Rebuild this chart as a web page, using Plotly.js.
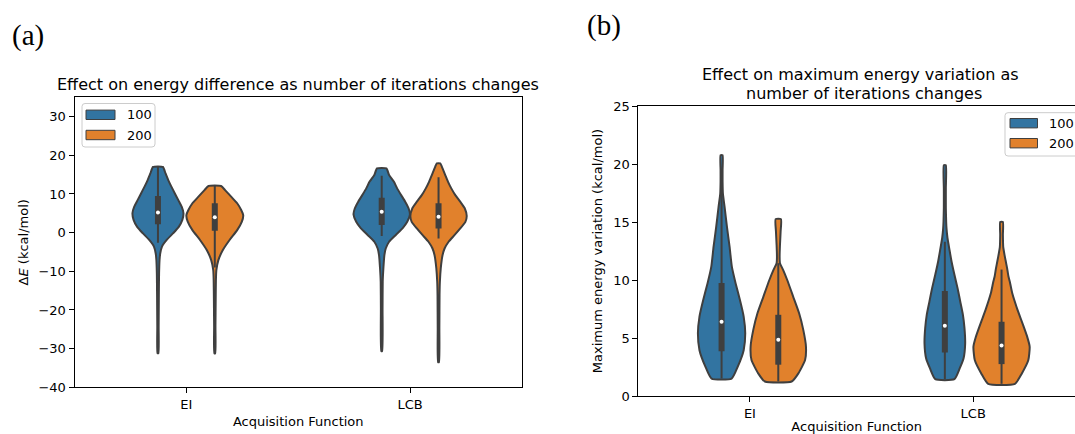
<!DOCTYPE html>
<html>
<head>
<meta charset="utf-8">
<script src="https://cdn.plot.ly/plotly-3.0.1.min.js"></script>
<style>
  html, body { margin: 0; padding: 0; background: #fff; }
  #chart { width: 1075px; height: 434px; }
</style>
</head>
<body>
<div id="chart"></div>
<script>
// ---------------------------------------------------------------
// Categories and hue levels
// ---------------------------------------------------------------
const categories = ['EI', 'LCB'];
const hueLevels = ['100', '200'];
const hueColors = ['#3274a1', '#e1812c'];

// Violin outlines: value levels (top to bottom) and half-width of the
// density at each level (in category units). Box stats are
// [lower whisker, Q1, median, Q3, upper whisker].

// (a) Energy difference, kcal/mol
const dE_EI_100_y = [17.0, 15.3, 13.6, 11.9, 10.2, 8.4, 6.7, 5.0, 3.3, 1.5, -0.2, -1.9, -3.6, -5.4, -7.1, -10.5, -15.7, -24.3, -31.2];
const dE_EI_100_w = [0.022, 0.034, 0.046, 0.060, 0.075, 0.091, 0.106, 0.114, 0.109, 0.093, 0.067, 0.039, 0.018, 0.010, 0.007, 0.005, 0.004, 0.003, 0.002];
const dE_EI_100_box = [-2.6, 2.2, 5.2, 9.5, 17.0];

const dE_EI_200_y = [12.05, 11.0, 9.3, 7.6, 5.85, 4.55, 2.85, 0.65, -1.9, -4.5, -7.1, -9.7, -12.3, -17.4, -24.3, -31.2];
const dE_EI_200_w = [0.028, 0.046, 0.073, 0.100, 0.118, 0.127, 0.121, 0.100, 0.066, 0.036, 0.016, 0.007, 0.005, 0.004, 0.003, 0.002];
const dE_EI_200_box = [-9.0, 0.5, 4.0, 7.6, 12.05];

const dE_LCB_100_y = [16.6, 14.9, 13.2, 11.45, 9.7, 8.0, 6.3, 4.7, 2.8, 1.1, -0.6, -2.35, -4.1, -5.8, -9.2, -12.7, -19.6, -30.6];
const dE_LCB_100_w = [0.021, 0.033, 0.054, 0.069, 0.087, 0.105, 0.120, 0.126, 0.114, 0.093, 0.063, 0.033, 0.018, 0.012, 0.0075, 0.0045, 0.0037, 0.002];
const dE_LCB_100_box = [-0.9, 2.0, 5.4, 9.0, 14.7];

const dE_LCB_200_y = [17.9, 16.6, 14.9, 13.2, 11.45, 9.7, 8.0, 6.3, 4.3, 2.8, 1.1, -0.6, -2.35, -4.1, -5.8, -9.2, -12.7, -16.1, -24.8, -33.5];
const dE_LCB_200_w = [0.0075, 0.018, 0.030, 0.042, 0.057, 0.075, 0.097, 0.117, 0.126, 0.120, 0.097, 0.072, 0.045, 0.027, 0.018, 0.010, 0.006, 0.0045, 0.0037, 0.002];
const dE_LCB_200_box = [-1.5, 1.1, 4.1, 7.6, 14.3];

// (b) Maximum energy variation, kcal/mol
const mV_EI_100_y = [20.75, 19.5, 18.5, 17.45, 16.3, 14.6, 12.85, 11.15, 9.7, 8.3, 6.85, 5.4, 3.95, 2.55, 1.5];
const mV_EI_100_w = [0.0045, 0.0045, 0.0045, 0.006, 0.0135, 0.024, 0.036, 0.046, 0.063, 0.082, 0.099, 0.106, 0.099, 0.073, 0.045];
const mV_EI_100_box = [1.5, 3.85, 6.4, 9.75, 18.6];

const mV_EI_200_y = [15.25, 14.2, 13.0, 12.0, 11.45, 10.85, 10.0, 8.55, 7.15, 5.7, 4.25, 3.1, 1.95, 1.25];
const mV_EI_200_w = [0.012, 0.0105, 0.0075, 0.006, 0.0075, 0.022, 0.040, 0.067, 0.093, 0.112, 0.124, 0.120, 0.090, 0.060];
const mV_EI_200_box = [1.25, 2.7, 4.85, 7.0, 11.45];

const mV_LCB_100_y = [19.9, 17.9, 16.2, 15.0, 14.45, 13.6, 12.75, 11.6, 10.45, 9.3, 8.15, 7.0, 5.85, 4.5, 3.25, 2.4, 1.45];
const mV_LCB_100_w = [0.0045, 0.0045, 0.0045, 0.006, 0.0075, 0.012, 0.0195, 0.030, 0.043, 0.057, 0.069, 0.081, 0.088, 0.091, 0.084, 0.067, 0.043];
const mV_LCB_100_box = [1.45, 3.75, 6.05, 9.05, 13.3];

const mV_LCB_200_y = [15.0, 13.9, 12.85, 12.15, 11.7, 11.0, 10.3, 9.85, 8.85, 7.4, 6.25, 5.1, 4.25, 3.1, 1.95, 1.05];
const mV_LCB_200_w = [0.006, 0.006, 0.0075, 0.0135, 0.018, 0.025, 0.031, 0.037, 0.048, 0.072, 0.094, 0.115, 0.126, 0.120, 0.091, 0.060];
const mV_LCB_200_box = [1.05, 2.75, 4.35, 6.4, 10.9];

// Tick values
const dETicks = [-40, -30, -20, -10, 0, 10, 20, 30];
const mVTicks = [0, 5, 10, 15, 20, 25];

// ---------------------------------------------------------------
// Drawing helpers
// ---------------------------------------------------------------
const W = 1075, H = 434;
const px = x => x / W;          // pixel column -> paper x
const py = y => 1 - y / H;      // pixel row -> paper y
const EDGE = '#3f3f3f';
const DODGE = 0.127;
const FONT = 'DejaVu Sans, Verdana, sans-serif';

const traces = [];

function addViolin(catIdx, hueIdx, ys, ws, box, xa, ya) {
  const c = catIdx + (hueIdx === 0 ? -DODGE : DODGE);
  const xs = [], yy = [];
  for (let i = 0; i < ys.length; i++) { xs.push(c + ws[i]); yy.push(ys[i]); }
  for (let i = ys.length - 1; i >= 0; i--) { xs.push(c - ws[i]); yy.push(ys[i]); }
  xs.push(xs[0]); yy.push(yy[0]);
  const common = { xaxis: xa, yaxis: ya, hoverinfo: 'skip', showlegend: false };
  traces.push(Object.assign({
    type: 'scatter', mode: 'lines', x: xs, y: yy, fill: 'toself',
    fillcolor: hueColors[hueIdx],
    line: { color: EDGE, width: 2, shape: 'spline', smoothing: 0.5 }
  }, common));
  // whiskers
  traces.push(Object.assign({
    type: 'scatter', mode: 'lines', x: [c, c], y: [box[0], box[4]],
    line: { color: EDGE, width: 2 }
  }, common));
  // interquartile box
  traces.push(Object.assign({
    type: 'scatter', mode: 'lines', x: [c, c], y: [box[1], box[3]],
    line: { color: EDGE, width: 6 }
  }, common));
  // median
  traces.push(Object.assign({
    type: 'scatter', mode: 'markers', x: [c], y: [box[2]],
    marker: { color: '#ffffff', size: 4, line: { width: 0 } }
  }, common));
}

addViolin(0, 0, dE_EI_100_y, dE_EI_100_w, dE_EI_100_box, 'x', 'y');
addViolin(0, 1, dE_EI_200_y, dE_EI_200_w, dE_EI_200_box, 'x', 'y');
addViolin(1, 0, dE_LCB_100_y, dE_LCB_100_w, dE_LCB_100_box, 'x', 'y');
addViolin(1, 1, dE_LCB_200_y, dE_LCB_200_w, dE_LCB_200_box, 'x', 'y');

addViolin(0, 0, mV_EI_100_y, mV_EI_100_w, mV_EI_100_box, 'x2', 'y2');
addViolin(0, 1, mV_EI_200_y, mV_EI_200_w, mV_EI_200_box, 'x2', 'y2');
addViolin(1, 0, mV_LCB_100_y, mV_LCB_100_w, mV_LCB_100_box, 'x2', 'y2');
addViolin(1, 1, mV_LCB_200_y, mV_LCB_200_w, mV_LCB_200_box, 'x2', 'y2');

// ---------------------------------------------------------------
// Axes
// ---------------------------------------------------------------
const tickFont = { family: FONT, size: 13, color: '#000' };
const baseAxis = {
  showline: true, linecolor: '#000', linewidth: 1,
  ticks: 'outside', ticklen: 5, tickwidth: 1, tickcolor: '#000',
  showgrid: false, zeroline: false, tickfont: tickFont, fixedrange: true
};

const xaxis = Object.assign({}, baseAxis, {
  domain: [px(74.5), px(522)], range: [-0.5, 1.5], anchor: 'y',
  tickvals: [0, 1], ticktext: categories, mirror: true,
  title: { text: 'Acquisition Function', font: tickFont, standoff: 5 }
});
const yaxis = Object.assign({}, baseAxis, {
  domain: [py(387.3), py(97.3)], range: [-40, 35], anchor: 'x',
  tickvals: dETicks, mirror: true,
  title: { text: 'Δ<i>E</i> (kcal/mol)', font: tickFont, standoff: 6 }
});
const xaxis2 = Object.assign({}, baseAxis, {
  domain: [px(638.3), 1], range: [-0.5, 1.456], anchor: 'y2',
  tickvals: [0, 1], ticktext: categories, mirror: true,
  title: { text: 'Acquisition Function', font: tickFont, standoff: 4 }
});
const yaxis2 = Object.assign({}, baseAxis, {
  domain: [py(396), py(106)], range: [0, 25], anchor: 'x2',
  tickvals: mVTicks, mirror: false,
  title: { text: 'Maximum energy variation (kcal/mol)', font: tickFont, standoff: 7 }
});

// ---------------------------------------------------------------
// Legends (rounded frames with colour patches) and titles
// ---------------------------------------------------------------
function roundRectPath(x0, y0, x1, y1, r) {
  const X = v => px(v).toFixed(5), Y = v => py(v).toFixed(5);
  return 'M' + X(x0 + r) + ',' + Y(y0) +
    ' L' + X(x1 - r) + ',' + Y(y0) + ' Q' + X(x1) + ',' + Y(y0) + ' ' + X(x1) + ',' + Y(y0 + r) +
    ' L' + X(x1) + ',' + Y(y1 - r) + ' Q' + X(x1) + ',' + Y(y1) + ' ' + X(x1 - r) + ',' + Y(y1) +
    ' L' + X(x0 + r) + ',' + Y(y1) + ' Q' + X(x0) + ',' + Y(y1) + ' ' + X(x0) + ',' + Y(y1 - r) +
    ' L' + X(x0) + ',' + Y(y0 + r) + ' Q' + X(x0) + ',' + Y(y0) + ' ' + X(x0 + r) + ',' + Y(y0) + ' Z';
}

const shapes = [];
const annotations = [];

function addLegend(frame, patchX, rowsY, textX) {
  shapes.push({
    type: 'path', xref: 'paper', yref: 'paper',
    path: roundRectPath(frame[0], frame[1], frame[2], frame[3], 3),
    fillcolor: 'rgba(255,255,255,0.8)', line: { color: '#cccccc', width: 1 }
  });
  hueLevels.forEach((lvl, i) => {
    shapes.push({
      type: 'rect', xref: 'paper', yref: 'paper',
      x0: px(patchX[0]), x1: px(patchX[1]),
      y0: py(rowsY[i] - 4.7), y1: py(rowsY[i] + 4.7),
      fillcolor: hueColors[i], line: { color: EDGE, width: 1 }
    });
    annotations.push({
      xref: 'paper', yref: 'paper', x: px(textX), y: py(rowsY[i]),
      xanchor: 'left', yanchor: 'middle', showarrow: false,
      text: lvl, font: { family: FONT, size: 13, color: '#000' }
    });
  });
}

addLegend([82, 103.5, 155, 147], [86, 115], [114.8, 135], 124.5);
addLegend([1005, 112.7, 1085, 156], [1010, 1037.5], [123.2, 143.2], 1047);

const titleFont = { family: FONT, size: 16, color: '#000' };
annotations.push(
  { xref: 'paper', yref: 'paper', x: px(298), y: py(84), xanchor: 'center', yanchor: 'middle',
    showarrow: false, text: 'Effect on energy difference as number of iterations changes', font: titleFont },
  { xref: 'paper', yref: 'paper', x: px(860), y: py(75), xanchor: 'center', yanchor: 'middle',
    showarrow: false, text: 'Effect on maximum energy variation as', font: titleFont },
  { xref: 'paper', yref: 'paper', x: px(864), y: py(93), xanchor: 'center', yanchor: 'middle',
    showarrow: false, text: 'number of iterations changes', font: titleFont },
  { xref: 'paper', yref: 'paper', x: px(27.5), y: py(35), xanchor: 'center', yanchor: 'middle',
    showarrow: false, text: '(a)', font: { family: 'Liberation Serif, DejaVu Serif, serif', size: 29, color: '#000' } },
  { xref: 'paper', yref: 'paper', x: px(604), y: py(25.5), xanchor: 'center', yanchor: 'middle',
    showarrow: false, text: '(b)', font: { family: 'Liberation Serif, DejaVu Serif, serif', size: 29, color: '#000' } }
);

const layout = {
  width: W, height: H,
  margin: { l: 0, r: 0, t: 0, b: 0, pad: 0 },
  paper_bgcolor: '#ffffff', plot_bgcolor: '#ffffff',
  showlegend: false,
  font: { family: FONT, size: 13, color: '#000' },
  xaxis: xaxis, yaxis: yaxis, xaxis2: xaxis2, yaxis2: yaxis2,
  shapes: shapes, annotations: annotations
};

Plotly.newPlot('chart', traces, layout, { displayModeBar: false, staticPlot: true });
</script>
</body>
</html>
